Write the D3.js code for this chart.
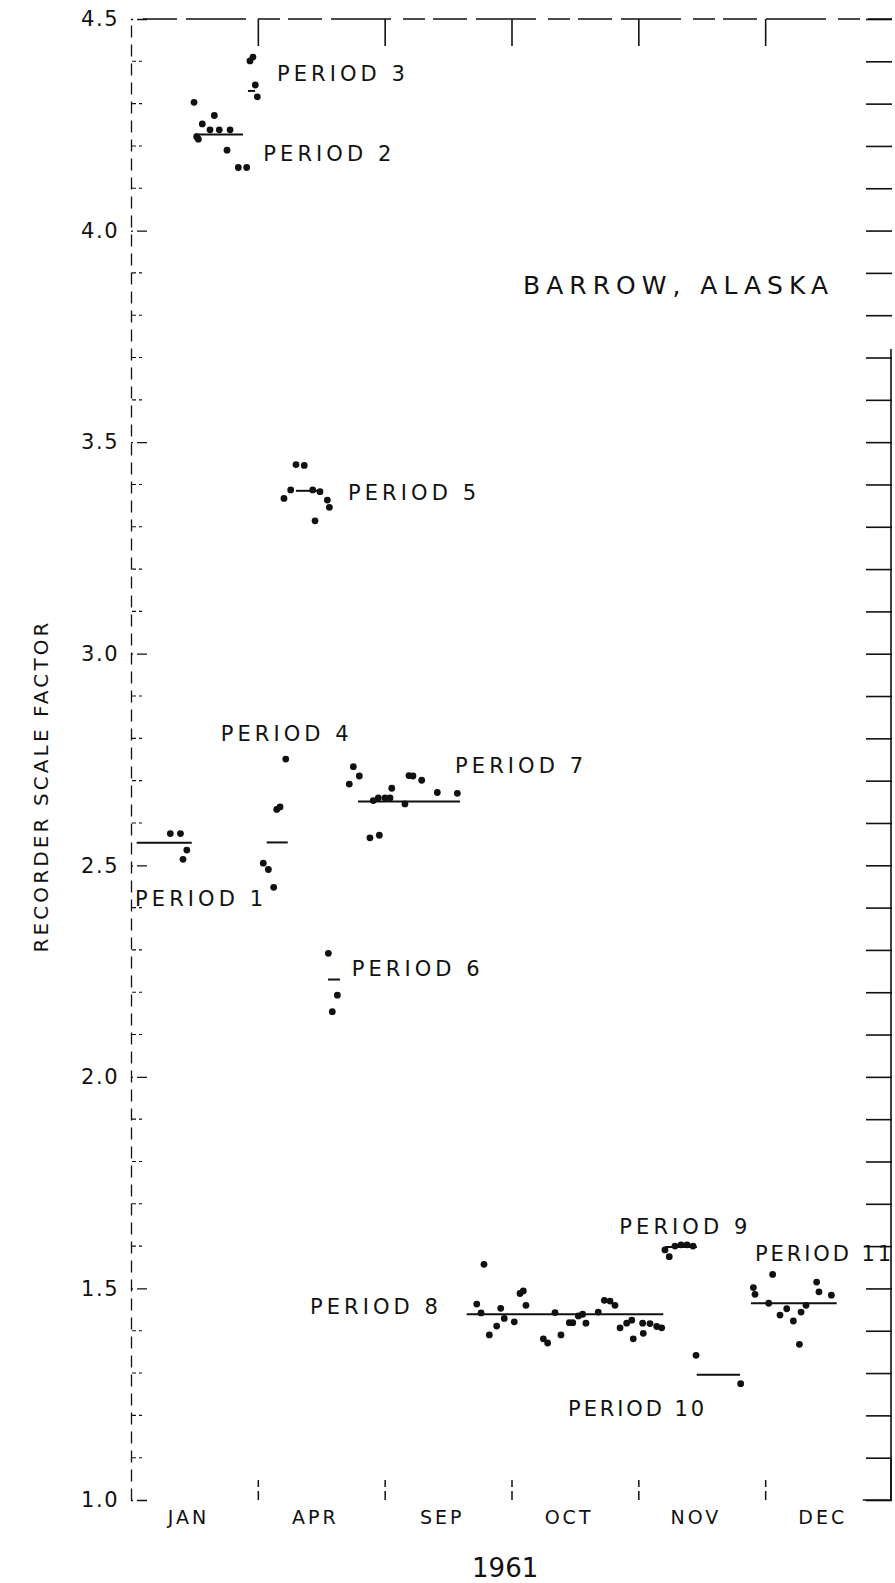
<!DOCTYPE html>
<html>
<head>
<meta charset="utf-8">
<script src="https://cdn.jsdelivr.net/npm/d3@7"></script>
<style>
  body { margin: 0; background: #fff; }
  text { font-family: "DejaVu Sans", sans-serif; fill: #111; }
</style>
</head>
<body>
<div id="wrapper"></div>
<script>
// x is in "panel" units: each month panel is one unit wide (JAN = 0..1, APR = 1..2, ...)
const monthLabels = ["JAN", "APR", "SEP", "OCT", "NOV", "DEC"]
const panelEdges = [1, 2, 3, 4, 5]
const yMajorTicks = [1.0, 1.5, 2.0, 2.5, 3.0, 3.5, 4.0, 4.5]

// [panel position, scale factor]
const period1 = [[0.31, 2.575], [0.39, 2.575], [0.44, 2.536], [0.41, 2.514]]
const period2 = [
  [0.497, 4.303], [0.657, 4.272], [0.562, 4.252], [0.623, 4.238], [0.696, 4.238],
  [0.781, 4.238], [0.518, 4.222], [0.531, 4.216], [0.757, 4.19], [0.846, 4.149], [0.912, 4.149],
]
const period3 = [[0.962, 4.41], [0.938, 4.401], [0.98, 4.344], [0.996, 4.316]]
const period4 = [[1.22, 2.751], [1.175, 2.638], [1.149, 2.632], [1.043, 2.505], [1.083, 2.49], [1.125, 2.448]]
const period5 = [
  [1.301, 3.447], [1.366, 3.445], [1.259, 3.387], [1.206, 3.367], [1.433, 3.387],
  [1.49, 3.383], [1.548, 3.363], [1.564, 3.346], [1.451, 3.314],
]
const period6 = [[1.556, 2.292], [1.627, 2.193], [1.587, 2.154]]
const period7 = [
  [1.753, 2.733], [1.8, 2.711], [1.721, 2.692], [2.192, 2.712], [2.223, 2.711], [2.292, 2.701],
  [2.056, 2.682], [1.91, 2.653], [1.95, 2.659], [2.003, 2.659], [2.042, 2.659], [2.16, 2.645],
  [2.415, 2.672], [2.573, 2.67], [1.884, 2.565], [1.958, 2.571],
]
const period8 = [
  [2.783, 1.557], [2.726, 1.463], [2.76, 1.442], [2.915, 1.453], [2.943, 1.429], [2.883, 1.411],
  [2.825, 1.39], [3.022, 1.421], [3.114, 1.46], [3.067, 1.488], [3.093, 1.494], [3.251, 1.381],
  [3.285, 1.371], [3.39, 1.39], [3.343, 1.443], [3.456, 1.419], [3.483, 1.419], [3.527, 1.435],
  [3.561, 1.439], [3.587, 1.418], [3.684, 1.444], [3.732, 1.472], [3.777, 1.47], [3.816, 1.46],
  [3.856, 1.407], [3.908, 1.418], [3.948, 1.425], [3.96, 1.381], [4.039, 1.394], [4.034, 1.418],
  [4.092, 1.417], [4.145, 1.41], [4.184, 1.407],
]
const period9 = [[4.289, 1.6], [4.337, 1.603], [4.384, 1.603], [4.431, 1.6], [4.244, 1.575], [4.21, 1.591]]
const period10 = [[4.455, 1.342], [4.807, 1.275]]
const period11 = [
  [4.907, 1.502], [4.92, 1.486], [5.059, 1.533], [5.028, 1.465], [5.117, 1.437], [5.17, 1.452],
  [5.222, 1.423], [5.27, 1.368], [5.283, 1.444], [5.322, 1.46], [5.406, 1.515], [5.424, 1.492],
  [5.522, 1.484],
]

// mean of each period: [from, to, value]
const periodMeans = [
  [0.045, 0.479, 2.553], [0.505, 0.883, 4.227], [0.922, 0.978, 4.33], [1.07, 1.236, 2.554],
  [1.3, 1.5, 3.385], [1.553, 1.648, 2.23], [1.79, 2.594, 2.651], [2.647, 4.197, 1.439],
  [4.21, 4.462, 1.598], [4.46, 4.802, 1.296], [4.888, 5.564, 1.465],
]

const periodNames = [
  "PERIOD 1", "PERIOD 2", "PERIOD 3", "PERIOD 4", "PERIOD 5", "PERIOD 6",
  "PERIOD 7", "PERIOD 8", "PERIOD 9", "PERIOD 10", "PERIOD 11",
]
const periodLabelX = [0.032, 1.043, 1.151, 0.707, 1.711, 1.74, 2.555, 1.411, 3.85, 3.446, 4.92]
const periodLabelY = [2.418, 4.179, 4.368, 2.808, 3.377, 2.252, 2.732, 1.453, 1.643, 1.212, 1.579]

const allPoints = [period1, period2, period3, period4, period5, period6,
  period7, period8, period9, period10, period11].flat()

// Dimensions
const width = 895
const height = 1583
const margin = { top: 19, right: 3, bottom: 83, left: 131 }

const svg = d3.select("#wrapper")
  .append("svg")
  .attr("width", width)
  .attr("height", height)

const x = d3.scaleLinear()
  .domain([0, 6])
  .range([margin.left, width - margin.right])
const y = d3.scaleLinear()
  .domain([1.0, 4.5])
  .range([height - margin.bottom, margin.top])

const ink = "#111"

// Left axis: dashed, ticks point inward
const leftAxis = svg.append("g")
  .attr("transform", `translate(${margin.left},0)`)
  .call(d3.axisLeft(y).tickValues(yMajorTicks).tickFormat(d3.format(".1f"))
    .tickSizeInner(-16).tickSizeOuter(0).tickPadding(12))
leftAxis.select(".domain").attr("stroke", ink).attr("stroke-width", 1.3).attr("stroke-dasharray", "12,7")
leftAxis.selectAll(".tick line").attr("stroke", ink).attr("stroke-width", 1.3)
  .attr("stroke-dasharray", "2,4,10,0")
leftAxis.selectAll(".tick text").attr("font-size", 21).attr("fill", ink)
  .attr("letter-spacing", 1.5)
  .style("font-family", "'DejaVu Sans', sans-serif")

svg.append("g")
  .selectAll("line")
  .data(y.ticks(35).filter(d => !yMajorTicks.some(t => Math.abs(t - d) < 1e-6)))
  .join("line")
  .attr("x1", margin.left + 1)
  .attr("x2", margin.left + 11)
  .attr("y1", d => y(d))
  .attr("y2", d => y(d))
  .attr("stroke", ink)
  .attr("stroke-width", 1.1)
  .attr("stroke-dasharray", "4,3")

// Right axis: ticks every 0.1 pointing inward
const rightAxis = svg.append("g")
  .attr("transform", `translate(${width - margin.right},0)`)
  .call(d3.axisRight(y).ticks(35).tickFormat("").tickSizeInner(-26).tickSizeOuter(0))
rightAxis.select(".domain").remove()
rightAxis.selectAll(".tick line").attr("stroke", ink).attr("stroke-width", 1.6)
svg.append("line")
  .attr("x1", width - margin.right - 1).attr("x2", width - margin.right - 1)
  .attr("y1", y(3.72)).attr("y2", y(1.0))
  .attr("stroke", ink).attr("stroke-width", 1.6)

// Top border with panel ticks hanging down
svg.append("line")
  .attr("x1", x(0) + 12).attr("x2", x(6))
  .attr("y1", y(4.5)).attr("y2", y(4.5))
  .attr("stroke", ink).attr("stroke-width", 1.5)
  .attr("stroke-dasharray", "34,9,60,12,22,8")
const topAxis = svg.append("g")
  .attr("transform", `translate(0,${y(4.5)})`)
  .call(d3.axisTop(x).tickValues(panelEdges).tickFormat("").tickSizeInner(-27).tickSizeOuter(0))
topAxis.select(".domain").remove()
topAxis.selectAll(".tick line").attr("stroke", ink).attr("stroke-width", 1.6)

// Bottom: panel edge ticks pointing up, month names centred in panels
const bottomTicks = svg.append("g")
  .attr("transform", `translate(0,${y(1.0)})`)
  .call(d3.axisBottom(x).tickValues(panelEdges).tickFormat("").tickSizeInner(-20).tickSizeOuter(0))
bottomTicks.select(".domain").remove()
bottomTicks.selectAll(".tick line").attr("stroke", ink).attr("stroke-width", 1.5)
  .attr("stroke-dasharray", "9,4,4,0")
svg.append("path")
  .attr("d", `M${x(5.77)},${y(1.0)}H${x(6) - 1}V${y(1.1)}`)
  .attr("fill", "none").attr("stroke", ink).attr("stroke-width", 1.6)

const monthAxis = svg.append("g")
  .attr("transform", `translate(0,${y(1.0)})`)
  .call(d3.axisBottom(x).tickValues(monthLabels.map((m, i) => i + 0.45))
    .tickFormat((d, i) => monthLabels[i]).tickSize(0).tickPadding(11))
monthAxis.select(".domain").remove()
monthAxis.selectAll(".tick text").attr("font-size", 19).attr("fill", ink)
  .attr("letter-spacing", 3)
  .style("font-family", "'DejaVu Sans', sans-serif")

// Axis titles
svg.append("text")
  .attr("x", x(2.95))
  .attr("y", height - 6)
  .attr("text-anchor", "middle")
  .attr("font-size", 26)
  .text("1961")

svg.append("text")
  .attr("transform", `translate(48,${(y(2.5) + y(3.0)) / 2 + 28}) rotate(-90)`)
  .attr("text-anchor", "middle")
  .attr("font-size", 20)
  .attr("textLength", 330)
  .attr("lengthAdjust", "spacing")
  .text("RECORDER SCALE FACTOR")

// Station name
svg.append("text")
  .attr("x", x(3.091))
  .attr("y", y(3.866))
  .attr("dominant-baseline", "middle")
  .attr("font-size", 25)
  .attr("textLength", 305)
  .attr("lengthAdjust", "spacing")
  .text("BARROW, ALASKA")

// Period means
svg.append("g")
  .selectAll("line")
  .data(periodMeans)
  .join("line")
  .attr("x1", d => x(d[0]))
  .attr("x2", d => x(d[1]))
  .attr("y1", d => y(d[2]))
  .attr("y2", d => y(d[2]))
  .attr("stroke", ink)
  .attr("stroke-width", 2)

// Daily values
svg.append("g")
  .selectAll("circle")
  .data(allPoints)
  .join("circle")
  .attr("cx", d => x(d[0]))
  .attr("cy", d => y(d[1]))
  .attr("r", 3.4)
  .attr("fill", ink)

// Period labels
svg.append("g")
  .selectAll("text")
  .data(periodNames)
  .join("text")
  .attr("x", (d, i) => x(periodLabelX[i]))
  .attr("y", (d, i) => y(periodLabelY[i]))
  .attr("dominant-baseline", "middle")
  .attr("font-size", 21)
  .attr("textLength", d => d.length > 8 ? 136 : 128)
  .attr("lengthAdjust", "spacing")
  .text(d => d)
</script>
</body>
</html>
